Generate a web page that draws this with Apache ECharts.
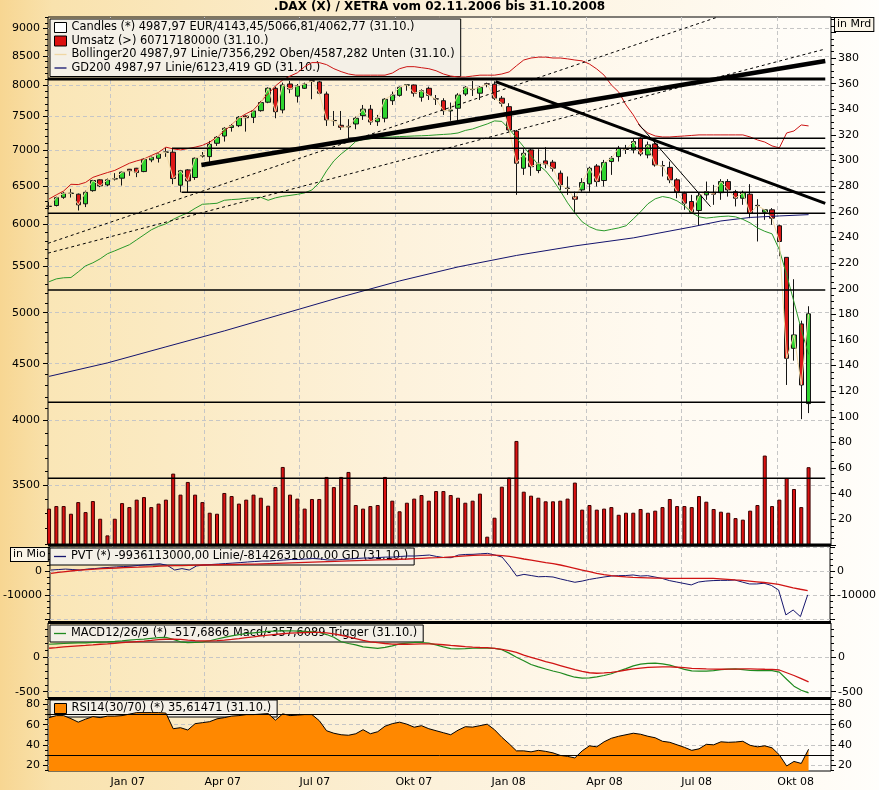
<!DOCTYPE html>
<html>
<head>
<meta charset="utf-8">
<script src="https://cdn.jsdelivr.net/npm/echarts@6/dist/echarts.min.js"></script>
<style>
  html, body { margin: 0; padding: 0; background: #fff; }
  #chart { width: 879px; height: 790px; }
</style>
</head>
<body>
<div id="chart"></div>
<script>
// ---------- data (weekly, Friday of each week) ----------
const weeks = ('2006-11-03 2006-11-10 2006-11-17 2006-11-24 2006-12-01 2006-12-08 2006-12-15 2006-12-22 2006-12-29 ' +
  '2007-01-05 2007-01-12 2007-01-19 2007-01-26 2007-02-02 2007-02-09 2007-02-16 2007-02-23 2007-03-02 2007-03-09 ' +
  '2007-03-16 2007-03-23 2007-03-30 2007-04-06 2007-04-13 2007-04-20 2007-04-27 2007-05-04 2007-05-11 2007-05-18 ' +
  '2007-05-25 2007-06-01 2007-06-08 2007-06-15 2007-06-22 2007-06-29 2007-07-06 2007-07-13 2007-07-20 2007-07-27 ' +
  '2007-08-03 2007-08-10 2007-08-17 2007-08-24 2007-08-31 2007-09-07 2007-09-14 2007-09-21 2007-09-28 2007-10-05 ' +
  '2007-10-12 2007-10-19 2007-10-26 2007-11-02 2007-11-09 2007-11-16 2007-11-23 2007-11-30 2007-12-07 2007-12-14 ' +
  '2007-12-21 2007-12-28 2008-01-04 2008-01-11 2008-01-18 2008-01-25 2008-02-01 2008-02-08 2008-02-15 2008-02-22 ' +
  '2008-02-29 2008-03-07 2008-03-14 2008-03-21 2008-03-28 2008-04-04 2008-04-11 2008-04-18 2008-04-25 2008-05-02 ' +
  '2008-05-09 2008-05-16 2008-05-23 2008-05-30 2008-06-06 2008-06-13 2008-06-20 2008-06-27 2008-07-04 2008-07-11 ' +
  '2008-07-18 2008-07-25 2008-08-01 2008-08-08 2008-08-15 2008-08-22 2008-08-29 2008-09-05 2008-09-12 2008-09-19 ' +
  '2008-09-26 2008-10-03 2008-10-10 2008-10-17 2008-10-24 2008-10-31').split(' ');

const open = [6232,6240,6347,6398,6388,6262,6435,6580,6512,6592, 6603,6726,6740,6694,6857,6880,6967,6967,6508,6717,
  6612,6911,6904,7097,7204,7332,7360,7508,7488,7592, 7726,7951,7603,8022,7823,7951,8075,8057,7858,7440,
  7366,7350,7386,7514,7615,7421,7474,7750,7836,8003, 8006,7805,7951,7780,7750,7588,7630,7858,7930,7871,
  8025,8019,7790,7655,7278,6740,7000,6708,6843,6825, 6671,6470,6356,6445,6526,6771,6571,6834,6904,7012,
  7000,7171,6928,7087,6778,6752,6580,6400,6292,6176, 6379,6408,6408,6557,6421,6335,6388,6242,6154,6185,
  5984,5606,4645,4885,4143.45];
const close = [6228,6342,6400,6402,6249,6413,6571,6499,6580,6596, 6685,6704,6680,6867,6895,6942,6970,6598,6704,6566,
  6880,6916,7083,7185,7320,7360,7488,7482,7588,7720, 7951,7576,8006,7940,7990,8022,8070,7871,7448,7436,
  7335,7340,7474,7615,7417,7474,7774,7842,7968,8008, 7871,7912,7836,7776,7592,7603,7842,7968,7934,7968,
  8020,7790,7710,7295,6810,6951,6762,6810,6796,6740, 6512,6464,6322,6544,6740,6557,6820,6880,7024,7008,
  7122,6942,7073,6786,6773,6580,6421,6270,6154,6366, 6421,6388,6557,6445,6335,6408,6141,6238,6185,6079,
  5793,4550,4775,4306,4987.97];
const low = [6190,6228,6327,6344,6176,6220,6421,6482,6495,6571, 6503,6635,6617,6685,6825,6820,6900,6522,6413,6413,
  6580,6890,6829,7058,7122,7270,7338,7270,7400,7576, 7710,7474,7550,7871,7720,7940,7774,7842,7356,7356,
  7295,7171,7306,7448,7371,7356,7411,7682,7815,7912, 7815,7735,7762,7682,7525,7436,7421,7826,7826,7762,
  7968,7762,7655,7270,6379,6648,6635,6671,6740,6694, 6445,6379,6144,6421,6421,6490,6490,6648,6834,6942,
  6951,6911,6880,6762,6626,6535,6335,6185,6141,5984, 6314,6249,6314,6356,6228,6249,6079,5793,6058,5996,
  5619,4306,4528,4012,4062.77];
const high = [6285,6355,6418,6458,6397,6435,6580,6587,6598,6672, 6693,6730,6745,6878,6906,6957,7030,7030,6717,6727,
  6891,6970,7132,7204,7340,7386,7508,7518,7603,7746, 7968,7978,8045,8073,8022,8045,8117,8073,7897,7587,
  7587,7460,7500,7682,7682,7525,7790,7897,7981,8022, 8014,7935,7978,7842,7790,7720,7871,7990,8073,7990,
  8045,8067,7826,7710,7295,7010,7024,7010,7039,6857, 6708,6626,6421,6603,6762,6798,6857,6911,7058,7073,
  7171,7185,7122,7156,6843,6834,6603,6421,6379,6405, 6557,6512,6590,6590,6445,6435,6522,6322,6194,6207,
  5996,5606,5358,4918,5066.81];

// turnover in billions (Mrd)
const volume = [28.4,30.4,30.4,24.4,33.5,25.7,34.3,20.5,7.5,20.5, 32.7,29.6,35.4,37.4,29.6,32.3,35.4,55.7,39.3,49.2,
  39.3,33.5,25.2,24.4,40.6,38.2,32.3,35.4,39.3,36.9, 30.7,45.2,60.9,39.3,36.2,28.4,35.9,35.9,53.1,45.2,
  53.1,57.0,31.2,28.4,30.4,31.2,53.1,34.6,26.3,33.0, 36.2,39.0,34.6,42.1,42.1,39.0,36.9,33.0,34.6,40.1,
  6.5,21.3,45.5,52.6,81.2,41.6,38.5,36.9,34.1,34.1, 34.6,36.2,48.7,27.6,31.2,27.6,28.4,29.6,23.6,25.2,
  25.2,28.1,25.2,26.8,29.6,35.9,30.4,30.4,29.6,38.2, 33.8,28.1,26.0,25.2,21.0,19.8,26.8,31.2,69.8,30.4,
  35.4,52.3,43.7,29.6,60.71718];

const bollUpper = [6325,6379,6430,6520,6516,6545,6614,6648,6680,6710, 6760,6810,6843,6870,6920,6965,7040,7015,7000,7020,
  7040,7066,7115,7188,7280,7371,7478,7545,7603,7735, 7860,7990,8089,8155,8210,8315,8385,8385,8350,8280,
  8230,8190,8170,8170,8170,8170,8170,8205,8280,8315, 8315,8297,8280,8245,8190,8155,8140,8140,8155,8170,
  8170,8170,8190,8225,8330,8430,8465,8480,8480,8465, 8465,8450,8430,8415,8360,8275,8170,8006,7890,7682,
  7525,7340,7250,7205,7190,7190,7198,7205,7213,7221, 7221,7221,7221,7221,7221,7221,7190,7146,7115,7058,
  7030,7250,7280,7371,7356.292];
const bollLower = [5330,5362,5374,5377,5440,5508,5543,5589,5648,5682, 5718,5754,5813,5873,5934,5977,6008,6064,6108,6146,
  6204,6256,6262,6269,6308,6317,6323,6334,6340,6347, 6308,6340,6360,6372,6386,6405,6445,6540,6703,6843,
  6942,7024,7124,7153,7163,7175,7185,7190,7196,7200, 7205,7208,7213,7221,7228,7235,7250,7288,7310,7349,
  7386,7433,7425,7310,7175,7044,6914,6786,6703,6580, 6432,6275,6146,6033,5972,5934,5922,5940,5958,5984,
  6070,6160,6262,6327,6357,6340,6300,6236,6146,6096, 6080,6090,6100,6105,6096,6064,6020,5958,5916,5885,
  5694,5407,5113,4830,4587.282];

const gdDates = ['2006-11-03','2006-12-29','2007-02-23','2007-04-20','2007-06-15','2007-08-10','2007-10-05','2007-11-30',
  '2008-01-25','2008-03-21','2008-05-16','2008-07-11','2008-08-08','2008-09-05','2008-10-03','2008-10-31'];
const gd200 = [4383,4507,4659,4815,4987,5165,5339,5496,5628,5740,5836,5970,6044,6088,6107,6123.419];

// PVT in millions
const pvt = [400,600,800,600,400,800,1000,1300,1500,1700, 1850,2000,2300,2600,2800,3000,2300,400,1000,400,
  2100,2500,2700,2900,3100,3300,3500,3750,3950,4150, 4150,4400,4600,4800,4800,5000,5200,5000,4600,4600,
  4800,5000,5200,5400,5400,5600,5800,5800,6050,6250, 6250,6450,6650,6050,5600,5550,6650,6900,6950,7150,
  7350,6650,5800,2100,-2100,-1400,-1900,-2400,-2300,-2500, -3300,-4000,-4700,-4200,-3500,-3000,-2500,-2100,-1950,-1900,
  -1650,-2100,-1950,-2500,-3100,-4000,-4600,-5200,-5800,-4600, -4200,-4000,-3900,-3900,-3750,-4600,-5400,-5400,-5100,-6000,
  -7900,-18300,-16250,-19000,-9936.113];
const pvtAvg = [-950,-600,-250,100,400,600,800,1000,1150,1250, 1375,1500,1600,1750,1850,2000,2100,2200,2250,2350,
  2450,2500,2550,2600,2650,2700,2750,2850,2900,3000, 3100,3200,3300,3400,3500,3600,3700,3800,3900,4000,
  4100,4200,4300,4400,4500,4600,4700,4800,4900,5000, 5150,5300,5450,5550,5700,5900,6100,6300,6500,6600,
  6650,6600,6400,6100,5600,5000,4500,4000,3500,3050, 2500,1800,1100,400,-300,-1000,-1500,-1900,-2200,-2450,
  -2650,-2750,-2850,-2950,-3000,-3050,-3050,-3050,-3050,-3050, -3050,-3100,-3250,-3450,-3700,-3900,-4200,-4500,-4800,-5150,
  -5600,-6300,-7000,-7600,-8142.631];

const macd = [189,195,200,205,208,210,215,220,225,232, 240,250,258,265,275,285,290,260,225,212,
  215,222,240,265,290,310,330,345,355,365, 375,380,385,385,380,375,370,360,330,290,
  225,200,180,150,140,130,145,165,195,205, 215,215,205,180,150,125,121,125,131,131,
  131,128,110,60,0,-50,-105,-140,-170,-200, -225,-260,-290,-303,-300,-285,-265,-240,-200,-165,
  -125,-100,-88,-85,-95,-115,-145,-175,-199,-200, -200,-195,-180,-172,-170,-180,-192,-195,-195,-195,
  -215,-320,-420,-480,-517.6866];
const trigger = [131,140,150,158,165,172,180,189,195,203, 212,220,228,236,245,255,262,265,260,250,
  242,238,238,242,250,260,272,285,297,310, 322,333,342,350,355,360,362,362,355,340,
  320,295,270,245,225,212,200,192,189,189, 192,195,195,190,182,172,164,155,148,142,
  139,130,115,95,70,30,0,-30,-65,-90, -120,-150,-180,-205,-225,-232,-228,-220,-205,-185,
  -170,-158,-148,-142,-141,-141,-145,-152,-160,-165, -170,-172,-174,-173,-171,-170,-170,-172,-174,-175,
  -185,-225,-265,-310,-357.6089];

const rsi = [67,69,69,66,62.5,65.5,68,67,68.5,68.5, 69,70.5,72,72,72,72,71.5,56,57,54.7,
  61,62,63,65.8,67,68.5,69,70,70,70.5, 71,64.5,70.8,69,69.5,70,70,64,54,51.5,
  50,49.5,51,55,51,53,58.5,61,62.5,60.5, 57.5,59,56,54,52,50,54.5,58,57.6,59,
  60.5,55,47.5,41,34,34,33,34.5,33.5,32, 29.5,28.5,27,34,39,38,43,46.5,48.5,50,
  51.5,50.5,48.5,47,43.5,42.5,40,37.5,34.5,36, 40.5,40,43,42.5,42.8,43.5,39.5,38,39,37,
  30,19,23.5,21.5,35.61471];

// support / resistance levels and trend lines (price space)
const levelValues = [8106, 7171, 7024, 6413, 6141, 5240, 4155, 3551];
const levelStarts = ['2006-11-02','2007-08-17','2007-03-01','2007-03-10','2006-11-02','2006-11-02','2006-11-02','2006-11-02'];
const levelEnd = '2008-11-16';
const trendRise  = [['2007-03-29', 6786], ['2008-11-16', 8414]];
const trendFall  = [['2008-01-05', 8061], ['2008-11-16', 6268]];
const trendShort = [['2008-05-21', 7386], ['2008-07-29', 6226]];
const channelUpper = [['2006-11-02', 5771], ['2008-08-03', 9200]];
const channelLower = [['2006-11-02', 5655], ['2008-11-16', 8624]];

const priceTicks = [3500,4000,4500,5000,5500,6000,6500,7000,7500,8000,8500,9000];
const quarterDates = ['2007-01-01','2007-04-01','2007-07-01','2007-10-01','2008-01-01','2008-04-01','2008-07-01','2008-10-01'];
const quarterLabels = ['Jan 07','Apr 07','Jul 07','Okt 07','Jan 08','Apr 08','Jul 08','Okt 08'];

// ---------- helpers ----------
const FONT = 'DejaVu Sans';
const t = s => Date.parse(s + 'T00:00:00Z');
const ln = Math.log;
const de = (v, d) => v.toFixed(d).replace('.', ',');
const last = a => a[a.length - 1];
const tw = weeks.map(t);
const quarterTimes = quarterDates.map(t);

const X_MIN = t('2006-11-02');
const X_MAX = t('2008-11-21') + 12 * 3600e3;
const P_MIN = 3093, P_MAX = 9214;
const VOL_MAX = 412;
const PVT_RANGE = [-21250, 10417];
const MACD_RANGE = [-592, 498];
const RSI_RANGE = [14, 85.5];

const GRID_LEFT = 48, GRID_WIDTH = 783;
const panels = [
  { top: 17, height: 528 },
  { top: 546, height: 76 },
  { top: 623, height: 75 },
  { top: 699, height: 72 }
];

const dashed = { color: '#c6c6c6', width: 1, type: [4, 3] };
const labelStyle = { fontFamily: FONT, fontSize: 11, color: '#000' };
const plotBg = { type: 'linear', x: 0, y: 0, x2: 1, y2: 0, colorStops: [
  { offset: 0, color: '#fae6b6' }, { offset: 0.45, color: '#fdf2dc' },
  { offset: 0.78, color: '#fffaf1' }, { offset: 1, color: '#fffdf9' } ] };

const stepValues = (a, b, s) => { const r = []; for (let v = a; v <= b + 1e-9; v += s) r.push(v); return r; };

// ---------- axes ----------
const grid = panels.map(p => ({
  left: GRID_LEFT, width: GRID_WIDTH, top: p.top, height: p.height,
  show: true, borderColor: '#000', borderWidth: 1, backgroundColor: plotBg, containLabel: false
}));

const xAxis = panels.map((p, i) => ({
  type: 'value', gridIndex: i, min: X_MIN, max: X_MAX,
  axisLine: { show: false, onZero: false },
  axisTick: { show: false, customValues: quarterTimes },
  splitLine: { show: true, lineStyle: dashed },
  axisLabel: i === 3 ? {
    show: true, customValues: quarterTimes, align: 'left', margin: 6, ...labelStyle,
    formatter: v => { const k = quarterTimes.indexOf(v); return k >= 0 ? quarterLabels[k] : ''; }
  } : { show: false }
}));

function tickAxis(gridIndex, position, min, max, values, len) {
  return {
    type: 'value', gridIndex, position, min, max,
    axisLine: { show: false }, axisLabel: { show: false }, splitLine: { show: false },
    axisTick: { show: true, length: len, customValues: values, lineStyle: { color: '#000' } }
  };
}
function labelAxis(gridIndex, position, range, labels, ticks, withSplit, fmt) {
  return {
    type: 'value', gridIndex, position, min: range[0], max: range[1],
    axisLine: { show: false },
    axisTick: { show: true, length: 5, customValues: ticks, lineStyle: { color: '#000' } },
    axisLabel: { customValues: labels, margin: position === 'left' ? 8 : 7, ...labelStyle,
      formatter: fmt || (v => String(v)) },
    splitLine: { show: withSplit, lineStyle: dashed }
  };
}

const lnTicks = priceTicks.map(ln);
const yAxis = [
  // 0: price (log), 1: price minor ticks, 2: turnover
  labelAxis(0, 'left', [ln(P_MIN), ln(P_MAX)], lnTicks, lnTicks, true, v => String(Math.round(Math.exp(v)))),
  tickAxis(0, 'left', ln(P_MIN), ln(P_MAX), stepValues(3100, 9200, 100).map(ln), 3),
  {
    type: 'value', gridIndex: 0, position: 'right', min: 0, max: VOL_MAX, interval: 20,
    axisLine: { show: false },
    axisTick: { show: true, length: 5, lineStyle: { color: '#000' } },
    minorTick: { show: true, splitNumber: 4, length: 3, lineStyle: { color: '#000' } },
    splitLine: { show: false },
    axisLabel: { margin: 7, ...labelStyle, formatter: v => (v > 0 && v < 390 ? String(v) : '') }
  },
  // 3-6: PVT
  labelAxis(1, 'left', PVT_RANGE, [-10000, 0], [-20000, -10000, 0, 10000], true),
  labelAxis(1, 'right', PVT_RANGE, [-10000, 0], [-20000, -10000, 0, 10000], false),
  tickAxis(1, 'left', PVT_RANGE[0], PVT_RANGE[1], stepValues(-20000, 10000, 2500), 3),
  tickAxis(1, 'right', PVT_RANGE[0], PVT_RANGE[1], stepValues(-20000, 10000, 2500), 3),
  // 7-10: MACD
  labelAxis(2, 'left', MACD_RANGE, [-500, 0], [-500, 0], true),
  labelAxis(2, 'right', MACD_RANGE, [-500, 0], [-500, 0], false),
  tickAxis(2, 'left', MACD_RANGE[0], MACD_RANGE[1], stepValues(-500, 400, 100), 3),
  tickAxis(2, 'right', MACD_RANGE[0], MACD_RANGE[1], stepValues(-500, 400, 100), 3),
  // 11-14: RSI
  labelAxis(3, 'left', RSI_RANGE, [20, 40, 60, 80], [20, 40, 60, 80], true),
  labelAxis(3, 'right', RSI_RANGE, [20, 40, 60, 80], [20, 40, 60, 80], false),
  tickAxis(3, 'left', RSI_RANGE[0], RSI_RANGE[1], stepValues(15, 85, 5), 3),
  tickAxis(3, 'right', RSI_RANGE[0], RSI_RANGE[1], stepValues(15, 85, 5), 3)
];

// ---------- series ----------
const COLORS = {
  up: '#2fd42f', down: '#dc1818', wick: '#151515', volume: '#dc1010',
  gd: '#14146e', upper: '#cc1414', lower: '#2a9a2a', priceLine: '#f0d7a4',
  pvt: '#15156e', avg: '#d01414', macd: '#1f8a1f', rsi: '#ff8800'
};
function line(name, xi, yi, data, color, width, extra) {
  return Object.assign({
    name, type: 'line', xAxisIndex: xi, yAxisIndex: yi, data,
    symbol: 'none', silent: true, z: 4,
    lineStyle: { color, width }, itemStyle: { color }
  }, extra || {});
}
const pricePts = (dates, values) => dates.map((d, i) => [t(d), ln(values[i])]);
const seg = pts => pts.map(p => [t(p[0]), ln(p[1])]);

const series = [
  {
    name: 'Umsatz', type: 'bar', xAxisIndex: 0, yAxisIndex: 2, barWidth: 4, z: 2, silent: true,
    itemStyle: { color: COLORS.volume, borderColor: '#3a0000', borderWidth: 1 },
    data: tw.map((x, i) => [x, volume[i]])
  },
  {
    name: 'Candles', type: 'candlestick', xAxisIndex: 0, yAxisIndex: 0, barWidth: 5, z: 3, silent: true,
    encode: { x: 0, y: [1, 2, 3, 4] },
    itemStyle: { color: COLORS.up, color0: COLORS.down, borderColor: COLORS.wick, borderColor0: COLORS.wick, borderWidth: 1 },
    data: tw.map((x, i) => [x, ln(open[i]), ln(close[i]), ln(low[i]), ln(high[i])])
  },
  line('GD200', 0, 0, pricePts(gdDates, gd200), COLORS.gd, 1),
  line('Bollinger Oben', 0, 0, pricePts(weeks, bollUpper), COLORS.upper, 1),
  line('Bollinger Unten', 0, 0, pricePts(weeks, bollLower), COLORS.lower, 1),
  line('Bollinger20', 0, 0, pricePts(weeks, close), COLORS.priceLine, 1)
];

levelValues.forEach((v, i) => {
  series.push(line('Linie ' + v, 0, 0, seg([[levelStarts[i], v], [levelEnd, v]]), '#000', i === 0 ? 3 : 1.4));
});
series.push(line('Trend steigend', 0, 0, seg(trendRise), '#000', 4.5));
series.push(line('Trend fallend', 0, 0, seg(trendFall), '#000', 3));
series.push(line('Trend kurz', 0, 0, seg(trendShort), '#000', 1));
series.push(line('Kanal oben', 0, 0, seg(channelUpper), '#000', 1, { lineStyle: { color: '#000', width: 1, type: [3, 3] } }));
series.push(line('Kanal unten', 0, 0, seg(channelLower), '#000', 1, { lineStyle: { color: '#000', width: 1, type: [3, 3] } }));

series.push(line('PVT', 1, 3, tw.map((x, i) => [x, pvt[i]]), COLORS.pvt, 1));
series.push(line('PVT GD', 1, 3, tw.map((x, i) => [x, pvtAvg[i]]), COLORS.avg, 1.3));
series.push(line('MACD12/26/9', 2, 7, tw.map((x, i) => [x, macd[i]]), COLORS.macd, 1.2));
series.push(line('Trigger', 2, 7, tw.map((x, i) => [x, trigger[i]]), COLORS.avg, 1.3));
series.push(line('RSI14(30/70)', 3, 11, tw.map((x, i) => [x, rsi[i]]), '#000', 1, {
  itemStyle: { color: COLORS.rsi },
  areaStyle: { color: COLORS.rsi, opacity: 1, origin: 'start' },
  markLine: {
    silent: true, symbol: 'none', label: { show: false },
    lineStyle: { color: '#000', width: 1, type: 'solid' },
    data: [{ yAxis: 30 }, { yAxis: 70 }]
  }
}));

// ---------- legends ----------
const legendText = {
  'Candles': `Candles (*) ${de(last(close), 2)} EUR/${de(last(open), 2)}/${de(last(high), 2)}/${de(last(low), 2)} (31.10.)`,
  'Umsatz': `Umsatz (>) ${Math.round(last(volume) * 1e9)} (31.10.)`,
  'Bollinger20': `Bollinger20 ${de(last(close), 2)} Linie/${de(last(bollUpper), 3)} Oben/${de(last(bollLower), 3)} Unten (31.10.)`,
  'GD200': `GD200 ${de(last(close), 2)} Linie/${de(last(gd200), 3)} GD (31.10.)`,
  'PVT': `PVT (*) ${de(last(pvt) * 1e6, 2)} Linie/${de(last(pvtAvg) * 1e6, 2)} GD (31.10.)`,
  'MACD12/26/9': `MACD12/26/9 (*) ${de(last(macd), 4)} Macd/${de(last(trigger), 4)} Trigger (31.10.)`,
  'RSI14(30/70)': `RSI14(30/70) (*) ${de(last(rsi), 5)} (31.10.)`
};
// a flat bar keeps its aspect inside the icon box, giving a plain line marker
const LINE_ICON = 'path://M0,0L12,0L12,1.3L0,1.3Z';
const lineItem = (name, color) => ({ name, icon: LINE_ICON, itemStyle: { color, borderWidth: 0 } });
const boxItem = (name, color) => ({ name, icon: 'rect', itemStyle: { color, borderColor: '#000', borderWidth: 1 } });
const legendBase = {
  selectedMode: false, orient: 'vertical', left: 50, itemGap: 2.5, itemWidth: 12, itemHeight: 10,
  symbolKeepAspect: true,
  padding: [3, 6, 3, 4], backgroundColor: '#f4f0e7', borderColor: '#000', borderWidth: 1,
  textStyle: { fontFamily: FONT, fontSize: 11.4, color: '#000' },
  formatter: n => legendText[n] || n
};
const legend = [
  Object.assign({}, legendBase, { top: 19, data: [
    boxItem('Candles', '#ffffff'), boxItem('Umsatz', COLORS.volume),
    lineItem('Bollinger20', COLORS.priceLine), lineItem('GD200', COLORS.gd) ] }),
  Object.assign({}, legendBase, { top: 548, data: [lineItem('PVT', COLORS.pvt)] }),
  Object.assign({}, legendBase, { top: 625, data: [lineItem('MACD12/26/9', COLORS.macd)] }),
  Object.assign({}, legendBase, { top: 700, data: [boxItem('RSI14(30/70)', COLORS.rsi)] })
];

// ---------- frame decorations ----------
const sepLine = y => ({ type: 'line', z: 100, silent: true,
  shape: { x1: GRID_LEFT, y1: y, x2: GRID_LEFT + GRID_WIDTH, y2: y }, style: { stroke: '#000', lineWidth: 3 } });
const unitBox = (text, left, top) => ({ type: 'text', left, top, z: 100, silent: true,
  style: { text, font: '11px "DejaVu Sans"', fill: '#000', backgroundColor: '#fbf5e8',
    borderColor: '#000', borderWidth: 1, padding: [1, 2, 1, 2] } });

const chart = echarts.init(document.getElementById('chart'), null, { renderer: 'canvas' });
chart.setOption({
  animation: false,
  backgroundColor: { type: 'linear', x: 0, y: 0, x2: 1, y2: 0, colorStops: [
    { offset: 0, color: '#f7d692' }, { offset: 0.06, color: '#f9e2ad' },
    { offset: 0.5, color: '#fcf1da' }, { offset: 0.94, color: '#fffcf6' }, { offset: 1, color: '#fffefb' } ] },
  textStyle: { fontFamily: FONT },
  title: {
    text: '.DAX (X) / XETRA vom 02.11.2006 bis 31.10.2008', left: 'center', top: 1, padding: 0,
    textStyle: { fontFamily: FONT, fontSize: 12, fontWeight: 'bold', color: '#000' }
  },
  legend, grid, xAxis, yAxis, series,
  graphic: [
    sepLine(545), sepLine(622.5), sepLine(698.5),
    unitBox('in Mio', 10, 547), unitBox('in Mrd', 834, 17)
  ]
});
</script>
</body>
</html>
